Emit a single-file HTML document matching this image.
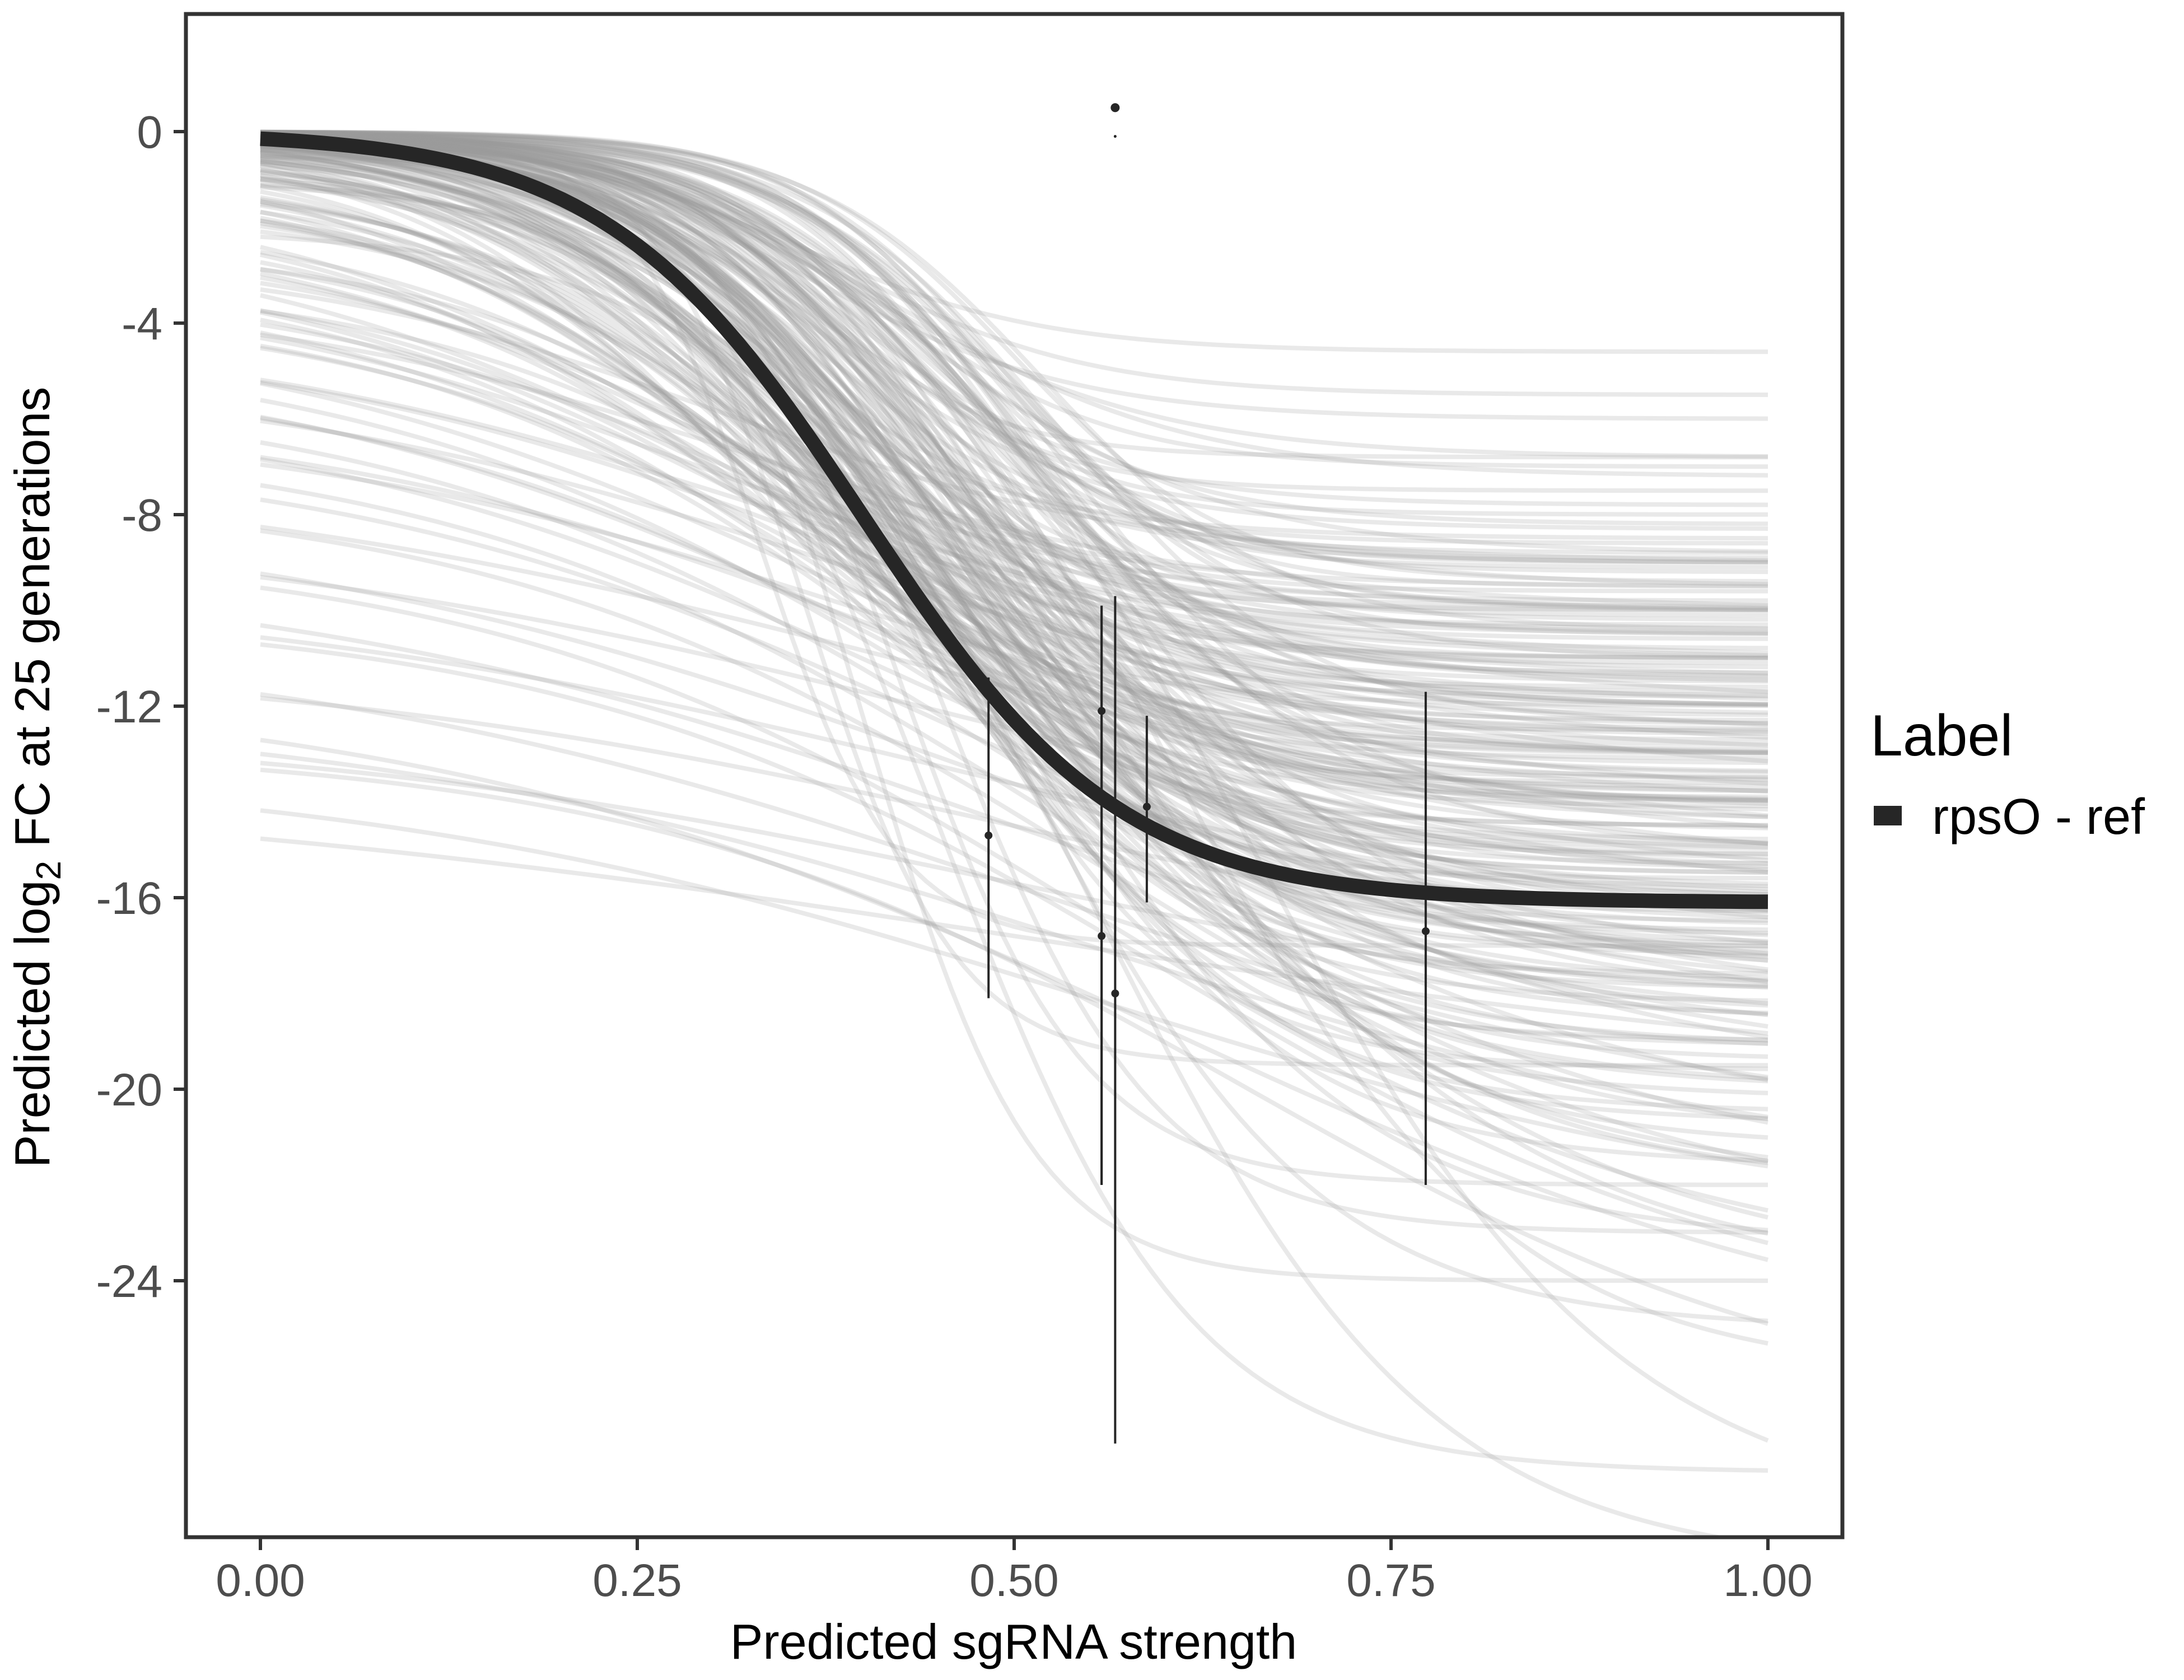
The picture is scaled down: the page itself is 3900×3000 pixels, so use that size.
<!DOCTYPE html>
<html><head><meta charset="utf-8"><style>
html,body{margin:0;padding:0;background:#fff;}
svg{display:block;font-family:"Liberation Sans",sans-serif;}
</style></head><body>
<svg id="chart" width="3900" height="3000" viewBox="0 0 3900 3000" xmlns="http://www.w3.org/2000/svg">
<defs><clipPath id="pc"><rect x="332" y="25" width="2958" height="2720"/></clipPath></defs>
<rect x="0" y="0" width="3900" height="3000" fill="#fff"/>
<g id="bg" clip-path="url(#pc)"></g>
<g id="main" clip-path="url(#pc)"></g>
<g id="pts"></g>
<rect x="332" y="25" width="2958" height="2720" fill="none" stroke="#333" stroke-width="7"/>
<g id="axes"></g>
<text x="1810" y="2962" font-size="88" text-anchor="middle" fill="#000">Predicted sgRNA strength</text>
<text transform="translate(88,1388) rotate(-90)" font-size="88" text-anchor="middle" fill="#000">Predicted  log<tspan font-size="62" dy="20">2</tspan><tspan dy="-20"> FC at 25 generations</tspan></text>
<g>
<text x="3340" y="1349" font-size="104" fill="#000">Label</text>
<rect x="3346" y="1439" width="50" height="35" fill="#262626"/>
<text x="3450" y="1489" font-size="90" fill="#000">rpsO - ref</text>
</g>
</svg>
<script>
const xTicks=[0,0.25,0.5,0.75,1];
const xTickLabels=["0.00","0.25","0.50","0.75","1.00"];
const yTicks=[0,-4,-8,-12,-16,-20,-24];
const yTickLabels=["0","-4","-8","-12","-16","-20","-24"];
const fitParams=[-16.1,0.4,11.7];
const obsX=[0.483,0.558,0.558,0.567,0.588,0.773];
const obsY=[-14.7,-12.1,-16.8,-18.0,-14.1,-16.7];
const obsLo=[-18.1,-22.0,-22.0,-27.4,-16.1,-22.0];
const obsHi=[-11.4,-9.9,-9.9,-9.7,-12.2,-11.7];
const outlierX=[0.567,0.567];
const outlierY=[0.5,-0.1];
const curveParams=[
[0,-9,0.42,12],[0,-10,0.45,11],[0,-11,0.4,13],[0,-12,0.43,10],[0,-13,0.41,12],[0,-14,0.44,11],[0,-15,0.38,10],[0,-16,0.4,9],[0,-17,0.42,10],[0,-18,0.45,9],[0,-19,0.43,11],[0,-20,0.47,9],[0,-8,0.4,14],[0,-7.5,0.38,15],[0,-6.8,0.36,16],[-0.1,-11.5,0.35,10],[-0.2,-12.5,0.33,9],[-0.3,-13.5,0.37,10],[-0.2,-14.5,0.36,11],[-0.1,-15.5,0.46,12],[0,-16.5,0.48,10],[0,-17.5,0.5,9],[0,-21,0.5,8],[0,-22,0.52,8],[0,-24,0.55,7],[0,-10.5,0.3,9],[-0.5,-12,0.3,8],[-0.8,-13,0.32,8],[-1,-14,0.34,8],[-1.2,-11,0.28,7],[-1.5,-15,0.35,7],[-1.8,-16,0.38,7],[-2,-12,0.3,6],[-2.2,-17,0.4,7],[-2.5,-13,0.33,6],[-2.8,-18,0.42,6],[-3,-14,0.35,6],[-3.2,-11,0.3,6],[-3.5,-19,0.45,6],[-3.8,-15,0.38,5],[-4,-12,0.35,5],[-4.3,-20,0.48,5],[-4.6,-16,0.4,5],[-5,-13,0.38,5],[-5.3,-21,0.5,5],[-5.6,-17,0.42,5],[-6,-14,0.4,5],[-6.3,-22,0.52,5],[-6.6,-18,0.45,5],[-7,-15,0.42,4],[-7.4,-23,0.55,5],[-7.8,-19,0.48,4],[-8.2,-16,0.45,4],[-8.6,-24,0.55,5],[-9,-20,0.5,4],[-9.5,-17,0.45,4],[-10,-25,0.6,5],[-10.5,-21,0.5,4],[-11,-18,0.5,4],[-11.5,-26,0.6,4],[-12,-22,0.55,4],[-12.4,-19,0.5,4],[-12.8,-27,0.65,5],[-13.2,-23,0.55,4],[-13.6,-20,0.5,3],
[0,-4.6,0.35,12],[0,-5.5,0.38,12],[0,-6,0.36,11],[0,-6.8,0.4,10],[0,-7.2,0.42,10],[0,-7.8,0.39,12],[0,-8.3,0.37,11],[0,-8.8,0.44,10],[0,-9.5,0.41,9],[0,-10,0.37,13],[-0.3,-9,0.34,10],[-0.6,-10.5,0.36,9],
[-0.5,-24,0.4,18],[-1,-28,0.45,12],[-2,-30,0.55,9],[-1,-25,0.5,10],[-0.5,-23,0.45,14],[0,-26,0.6,9],[0,-29,0.65,8],[-0.2,-22,0.42,16],[0,-19.5,0.36,20],[0,-17,0.33,22],
[0,-11,0.47,14],[0,-12,0.5,13],[0,-13,0.48,12],[0,-14,0.52,12],[0,-15,0.49,11],[0,-9.5,0.48,15],[0,-10.5,0.5,14],[0,-12.5,0.39,14],[0,-13.5,0.42,13],[0,-14.5,0.4,12],[0,-15.5,0.43,11],[0,-16.5,0.45,12],[0,-11.5,0.44,10],[0,-18.5,0.47,10],[0,-20.5,0.45,10],[-0.1,-10,0.32,11],[-0.2,-11,0.31,10],[-0.3,-12,0.29,10],[-0.4,-13,0.31,9],[-0.6,-14,0.33,9],[-0.7,-8.5,0.3,10],[-0.9,-9.5,0.28,9],[-1.1,-16,0.4,8],[-1.3,-18,0.42,8],[-1.6,-20,0.45,8],[-1.9,-10,0.27,7],[-2.3,-22,0.5,7],[-2.6,-9,0.3,7],[-3,-24,0.55,6],[-3.4,-10,0.32,6],
[0,-9.2,0.44,13],[0,-10.2,0.42,12],[0,-11.2,0.46,12],[0,-12.2,0.41,11],[0,-13.2,0.45,12],[0,-14.2,0.43,10],[0,-15.2,0.47,11],[0,-16.2,0.42,10],[0,-17.2,0.44,11],[0,-18.2,0.41,10],[0,-19.2,0.46,9],[0,-20.2,0.43,9],
[0,-8.6,0.38,13],[0,-9.8,0.36,12],[0,-10.8,0.39,11],[0,-11.8,0.37,12],[0,-12.8,0.35,11],[0,-13.8,0.38,10],[0,-14.8,0.36,10],[0,-15.8,0.34,9],[0,-16.8,0.37,9],[0,-17.8,0.39,9],
[-0.1,-9,0.46,15],[-0.1,-10,0.49,13],[-0.1,-11,0.51,12],[-0.1,-12,0.47,11],[-0.1,-13,0.5,12],[-0.1,-14,0.46,13],[-0.1,-15,0.53,10],[-0.1,-16,0.51,11],[-0.1,-17,0.48,10],[-0.1,-18,0.52,9],
[-0.3,-10.4,0.34,10],[-0.4,-11.4,0.36,9],[-0.5,-12.4,0.35,9],[-0.6,-13.4,0.38,9],[-0.7,-14.4,0.37,8],[-0.8,-15.4,0.39,8],[-0.9,-16.4,0.41,8],[-1,-17.4,0.43,8],[-1.1,-12.6,0.33,8],[-1.2,-13.6,0.35,8],
[0,-7,0.41,13],[0,-8.2,0.43,12],[0,-9.6,0.39,14],[0,-11.6,0.42,14],[0,-13.6,0.4,13],[0,-15.6,0.41,13],[0,-17.6,0.43,12],[0,-19.6,0.44,12],[0,-21.6,0.47,10],[0,-23.2,0.5,9],
[-0.2,-10.6,0.4,12],[-0.2,-12.6,0.42,11],[-0.2,-14.6,0.44,10],[-0.2,-16.6,0.46,10],[-0.2,-18.6,0.48,9],[-0.3,-8.8,0.37,12],[-0.4,-11.8,0.39,10],[-0.5,-13.8,0.41,10],[-0.6,-15.8,0.43,9],[-0.7,-17.8,0.45,9],
[-1.4,-12.2,0.36,8],[-1.7,-14.2,0.38,7],[-2.1,-15.6,0.4,7],[-2.4,-11.4,0.34,7],[-2.7,-16.6,0.42,6],[-3.1,-12.6,0.37,6],[-3.6,-17.4,0.44,6],[-4.1,-13.6,0.4,5],[-4.8,-18.4,0.47,5],[-5.8,-15.4,0.43,5],
[0,-9.4,0.5,14],[0,-10.4,0.52,13],[0,-11.4,0.49,14],[0,-12.4,0.53,12],[0,-13.4,0.51,13],[0,-14.4,0.54,11],[0,-15.4,0.5,12],[0,-16.4,0.53,11],[0,-17.4,0.55,10],[0,-18.4,0.52,10],
[0,-8.9,0.47,16],[0,-10.1,0.46,15],[0,-11.3,0.48,15],[0,-12.7,0.45,14],[0,-13.9,0.47,14],[0,-15.1,0.45,13],[0,-16.3,0.48,13],[0,-17.1,0.46,12],[0,-19.4,0.5,11],[0,-21.2,0.53,10],
[0,-9.1,0.43,14],[0,-10.3,0.41,14],[0,-11.7,0.43,13],[0,-12.9,0.44,13],[0,-14.1,0.42,12],[0,-15.3,0.44,12],[0,-16.7,0.43,11],[0,-17.9,0.45,11],[0,-19.1,0.42,10],[0,-20.7,0.46,10],
[-0.1,-11.1,0.38,12],[-0.1,-12.3,0.4,12],[-0.1,-13.7,0.39,11],[-0.1,-14.9,0.41,11],[-0.2,-16.1,0.4,10],[-0.2,-9.9,0.37,13],[-0.3,-13.1,0.36,11],[-0.3,-15.1,0.38,10],[-0.4,-17.1,0.41,9],[-0.5,-19.1,0.44,9]
];
const NS="http://www.w3.org/2000/svg";
function sx(v){return 465+v*(3157-465);}
function sy(v){return 235-v*85.5;}
function mk(t,a,p){const e=document.createElementNS(NS,t);for(const k in a)e.setAttribute(k,a[k]);p.appendChild(e);return e;}
function logi(top,bot,m,k,x){return top+(bot-top)/(1+Math.exp(-k*(x-m)));}
function pathFor(f){let d="";for(let i=0;i<=120;i++){const x=i/120;d+=(i?"L":"M")+sx(x).toFixed(1)+","+sy(f(x)).toFixed(1);}return d;}
const bg=document.getElementById('bg');
curveParams.forEach((c,i)=>{
 const p=mk('path',{d:pathFor(x=>logi(c[0],c[1],c[2],c[3],x)),fill:'none',stroke:'#999','stroke-width':8,'stroke-opacity':0.22},bg);
 
 
});
const main=document.getElementById('main');
const fp=mk('path',{d:pathFor(x=>fitParams[0]/(1+Math.exp(-fitParams[2]*(x-fitParams[1])))),fill:'none',stroke:'#262626','stroke-width':26},main);


const pts=document.getElementById('pts');
obsX.forEach((x,i)=>{
 const l=mk('line',{x1:sx(x),x2:sx(x),y1:sy(obsLo[i]),y2:sy(obsHi[i]),stroke:'#262626','stroke-width':4},pts);
 
 
 const c=mk('circle',{cx:sx(x),cy:sy(obsY[i]),r:7,fill:'#262626'},pts);
 
 
});
outlierX.forEach((x,i)=>{
 const c=mk('circle',{cx:sx(x),cy:sy(outlierY[i]),r:i?2.5:8,fill:'#262626'},pts);
 
 
});
const ax=document.getElementById('axes');
xTicks.forEach((v,i)=>{
 const t=mk('line',{x1:sx(v),x2:sx(v),y1:2748,y2:2768,stroke:'#333','stroke-width':6},ax);
 
 
 const l=mk('text',{x:sx(v),y:2850,'font-size':82,'text-anchor':'middle',fill:'#4d4d4d'},ax);
 l.textContent=xTickLabels[i];
 
 
});
yTicks.forEach((v,i)=>{
 const t=mk('line',{x1:310,x2:329,y1:sy(v),y2:sy(v),stroke:'#333','stroke-width':6},ax);
 
 
 const l=mk('text',{x:290,y:sy(v)+29,'font-size':82,'text-anchor':'end',fill:'#4d4d4d'},ax);
 l.textContent=yTickLabels[i];
 
 
});
</script>
</body></html>
